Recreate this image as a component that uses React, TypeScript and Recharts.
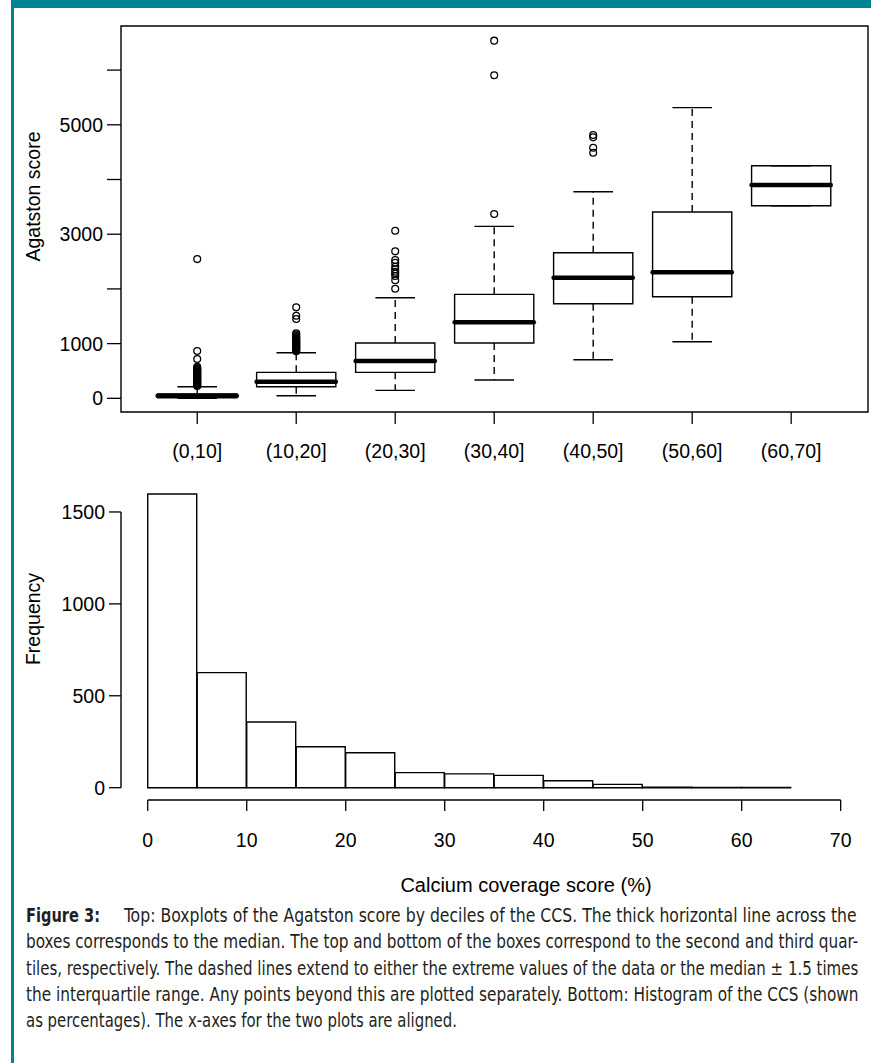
import React, { useLayoutEffect, useRef, useState } from 'react';
import {
  ComposedChart,
  XAxis,
  YAxis,
  Scatter,
  Bar,
  ReferenceArea,
  ReferenceLine,
} from 'recharts';

const FONT = '"Liberation Sans", Arial, Helvetica, sans-serif';
const CAPTION_FONT =
  '"Liberation Sans Narrow", "Arial Narrow", "DejaVu Sans Condensed", "Roboto Condensed", sans-serif';
const TEAL = '#008493';
const INK = '#000';

// ---------- shared x domain (CCS %) ----------
const X_MIN = -2.7;
const X_MAX = 72.76;

// ---------- top: boxplots of Agatston score by CCS decile ----------
const categories = ['(0,10]', '(10,20]', '(20,30]', '(30,40]', '(40,50]', '(50,60]', '(60,70]'];
const categoryMid = [5, 15, 25, 35, 45, 55, 65];
const whiskerLow = [0, 48, 146, 335, 706, 1035, 3521];
const quartile1 = [11, 212, 475, 1011, 1730, 1857, 3521];
const medians = [48, 304, 682, 1389, 2205, 2303, 3899];
const quartile3 = [79, 475, 1011, 1901, 2662, 3406, 4252];
const whiskerHigh = [212, 834, 1839, 3144, 3777, 5313, 4252];

const outliers0to10 = [
  225, 240, 255, 270, 285, 300, 315, 330, 345, 360, 375, 390, 405, 420, 435, 450, 465, 480, 495,
  510, 525, 540, 555, 575, 718, 865, 2545,
];
const outliers10to20 = [
  860, 875, 890, 905, 920, 935, 950, 965, 980, 995, 1010, 1025, 1040, 1055, 1070, 1085, 1100, 1120,
  1140, 1165, 1188, 1450, 1510, 1663,
];
const outliers20to30 = [2004, 2157, 2236, 2280, 2315, 2360, 2406, 2479, 2528, 2687, 3064];
const outliers30to40 = [3369, 5905, 6538];
const outliers40to50 = [4490, 4581, 4771, 4814];
const outliers50to60: number[] = [];
const outliers60to70: number[] = [];
const outlierGroups = [
  outliers0to10,
  outliers10to20,
  outliers20to30,
  outliers30to40,
  outliers40to50,
  outliers50to60,
  outliers60to70,
];

const agatstonTicks = [0, 1000, 2000, 3000, 4000, 5000, 6000];
const agatstonLabelled = [0, 1000, 3000, 5000];
const Y1_MIN = -250;
const Y1_MAX = 6806;

// ---------- bottom: histogram of CCS ----------
const binStart = [0, 5, 10, 15, 20, 25, 30, 35, 40, 45, 50, 55, 60];
const binCounts = [1598, 626, 357, 223, 190, 82, 75, 67, 38, 18, 2, 1, 1];
const ccsTicks = [0, 10, 20, 30, 40, 50, 60, 70];
const freqTicks = [0, 500, 1000, 1500];
const Y2_MIN = -67;
const Y2_MAX = 1700;
const BIN_WIDTH = 5;

const BOX_HALF = 4;
const CAP_HALF = 2;

const outlierData = outlierGroups.flatMap((g, i) => g.map((v) => ({ x: categoryMid[i], y: v })));
const histData = binStart.map((s, i) => ({ mid: s + BIN_WIDTH / 2, count: binCounts[i] }));

const captionHead = 'Figure 3:';
const captionFirst =
  'Top: Boxplots of the Agatston score by deciles of the CCS. The thick horizontal line across the';
const captionLines = [
  'boxes corresponds to the median. The top and bottom of the boxes correspond to the second and third quar-',
  'tiles, respectively. The dashed lines extend to either the extreme values of the data or the median \u00b1 1.5 times',
  'the interquartile range. Any points beyond this are plotted separately. Bottom: Histogram of the CCS (shown',
  'as percentages). The x-axes for the two plots are aligned.',
];

const tickStyle = { fill: INK, fontSize: 19.5, fontFamily: FONT };
const tickLineStyle = { stroke: INK, strokeWidth: 1.3 };

const Circle = (p: any) => (
  <circle cx={p.cx} cy={p.cy} r={3.4} fill="none" stroke={INK} strokeWidth={1.3} />
);

function FitText(props: {
  x: number;
  y: number;
  width: number;
  bold?: boolean;
  children: string;
}) {
  const ref = useRef<SVGTextElement>(null);
  const [sx, setSx] = useState(1);
  useLayoutEffect(() => {
    if (ref.current) {
      const w = ref.current.getComputedTextLength();
      if (w > 0) setSx(props.width / w);
    }
  }, [props.width, props.children]);
  return (
    <text
      ref={ref}
      transform={`translate(${props.x},${props.y}) scale(${sx},1)`}
      fontFamily={CAPTION_FONT}
      fontWeight={props.bold ? 'bold' : 'normal'}
      fontSize={20}
      fill="#231f20"
    >
      {props.children}
    </text>
  );
}

function BoxChart() {
  const seg = (x1: number, y1: number, x2: number, y2: number) => [
    { x: x1, y: y1 },
    { x: x2, y: y2 },
  ];
  return (
    <ComposedChart width={871} height={470} margin={{ top: 26, right: 3, left: 0, bottom: 8 }}>
      <XAxis
        type="number"
        dataKey="x"
        domain={[X_MIN, X_MAX]}
        allowDataOverflow
        ticks={categoryMid}
        interval={0}
        tickFormatter={(v: number) => categories[categoryMid.indexOf(v)] ?? ''}
        axisLine={false}
        tickSize={12}
        tickMargin={20}
        height={50}
        stroke={INK}
        tick={tickStyle}
        tickLine={tickLineStyle}
      />
      <YAxis
        type="number"
        dataKey="y"
        domain={[Y1_MIN, Y1_MAX]}
        allowDataOverflow
        ticks={agatstonTicks}
        interval={0}
        tickFormatter={(v: number) => (agatstonLabelled.includes(v) ? String(v) : '')}
        axisLine={false}
        tickSize={14}
        tickMargin={4}
        width={121}
        stroke={INK}
        tick={tickStyle}
        tickLine={tickLineStyle}
      />
      <ReferenceArea
        x1={X_MIN}
        x2={X_MAX}
        y1={Y1_MIN}
        y2={Y1_MAX}
        fill="none"
        stroke={INK}
        strokeWidth={1.4}
        ifOverflow="visible"
      />
      {categoryMid.map((x, i) => (
        <ReferenceLine
          key={`wh${i}`}
          segment={seg(x, quartile3[i], x, whiskerHigh[i])}
          stroke={INK}
          strokeWidth={1.4}
          strokeDasharray="7 5"
          ifOverflow="visible"
        />
      ))}
      {categoryMid.map((x, i) => (
        <ReferenceLine
          key={`wl${i}`}
          segment={seg(x, quartile1[i], x, whiskerLow[i])}
          stroke={INK}
          strokeWidth={1.4}
          strokeDasharray="7 5"
          ifOverflow="visible"
        />
      ))}
      {categoryMid.map((x, i) => (
        <ReferenceLine
          key={`ch${i}`}
          segment={seg(x - CAP_HALF, whiskerHigh[i], x + CAP_HALF, whiskerHigh[i])}
          stroke={INK}
          strokeWidth={1.4}
          ifOverflow="visible"
        />
      ))}
      {categoryMid.map((x, i) => (
        <ReferenceLine
          key={`cl${i}`}
          segment={seg(x - CAP_HALF, whiskerLow[i], x + CAP_HALF, whiskerLow[i])}
          stroke={INK}
          strokeWidth={1.4}
          ifOverflow="visible"
        />
      ))}
      {categoryMid.map((x, i) => (
        <ReferenceArea
          key={`bx${i}`}
          x1={x - BOX_HALF}
          x2={x + BOX_HALF}
          y1={quartile1[i]}
          y2={quartile3[i]}
          fill="#fff"
          fillOpacity={1}
          stroke={INK}
          strokeWidth={1.4}
          ifOverflow="visible"
        />
      ))}
      {categoryMid.map((x, i) => (
        <ReferenceLine
          key={`md${i}`}
          segment={seg(x - BOX_HALF, medians[i], x + BOX_HALF, medians[i])}
          stroke={INK}
          strokeWidth={4.5}
          strokeLinecap="round"
          ifOverflow="visible"
        />
      ))}
      <Scatter data={outlierData} dataKey="y" shape={Circle} isAnimationActive={false} />
    </ComposedChart>
  );
}

function HistChart() {
  return (
    <ComposedChart
      width={871}
      height={390}
      data={histData}
      margin={{ top: 15.2, right: 3, left: 0, bottom: 0 }}
      barCategoryGap={0}
      barGap={0}
    >
      <XAxis
        type="number"
        dataKey="mid"
        domain={[X_MIN, X_MAX]}
        allowDataOverflow
        ticks={ccsTicks}
        interval={0}
        axisLine={false}
        tickSize={11}
        tickMargin={22}
        height={50}
        stroke={INK}
        tick={tickStyle}
        tickLine={tickLineStyle}
      />
      <YAxis
        type="number"
        domain={[Y2_MIN, Y2_MAX]}
        allowDataOverflow
        ticks={freqTicks}
        interval={0}
        axisLine={false}
        tickSize={12}
        tickMargin={4}
        width={121}
        stroke={INK}
        tick={tickStyle}
        tickLine={tickLineStyle}
      />
      <Bar dataKey="count" fill="#fff" stroke={INK} strokeWidth={1.4} isAnimationActive={false} />
      <ReferenceLine
        segment={[
          { x: X_MIN, y: freqTicks[0] },
          { x: X_MIN, y: freqTicks[freqTicks.length - 1] },
        ]}
        stroke={INK}
        strokeWidth={1.4}
        ifOverflow="visible"
      />
      <ReferenceLine
        segment={[
          { x: ccsTicks[0], y: Y2_MIN },
          { x: ccsTicks[ccsTicks.length - 1], y: Y2_MIN },
        ]}
        stroke={INK}
        strokeWidth={1.4}
        ifOverflow="visible"
      />
    </ComposedChart>
  );
}

export default function App() {
  const baseY = 922;
  const lh = 26.3;
  return (
    <div
      style={{
        position: 'absolute',
        left: 0,
        top: 0,
        width: 871,
        height: 1063,
        background: '#fff',
        overflow: 'hidden',
      }}
    >
      <div style={{ position: 'absolute', left: 11, top: 0, width: 860, height: 8, background: TEAL }} />
      <div style={{ position: 'absolute', left: 11, top: 0, width: 3, height: 1063, background: TEAL }} />
      <div style={{ position: 'absolute', left: 0, top: 0 }}>
        <BoxChart />
      </div>
      <div style={{ position: 'absolute', left: 0, top: 460 }}>
        <HistChart />
      </div>
      <svg
        width={871}
        height={1063}
        style={{ position: 'absolute', left: 0, top: 0, pointerEvents: 'none' }}
      >
        <text
          transform="translate(33,196.5) rotate(-90)"
          textAnchor="middle"
          dy="0.35em"
          fontFamily={FONT}
          fontSize={19.5}
          fill={INK}
        >
          Agatston score
        </text>
        <text
          transform="translate(33,619) rotate(-90)"
          textAnchor="middle"
          dy="0.35em"
          fontFamily={FONT}
          fontSize={19.5}
          fill={INK}
        >
          Frequency
        </text>
        <text x={526} y={892} textAnchor="middle" fontFamily={FONT} fontSize={20} fill={INK}>
          Calcium coverage score (%)
        </text>
        <FitText x={26} y={baseY} width={74} bold>
          {captionHead}
        </FitText>
        <FitText x={124} y={baseY} width={733}>
          {captionFirst}
        </FitText>
        {captionLines.map((t, i) => (
          <FitText
            key={i}
            x={26}
            y={baseY + lh * (i + 1)}
            width={i === captionLines.length - 1 ? 431 : 833}
          >
            {t}
          </FitText>
        ))}
      </svg>
    </div>
  );
}
